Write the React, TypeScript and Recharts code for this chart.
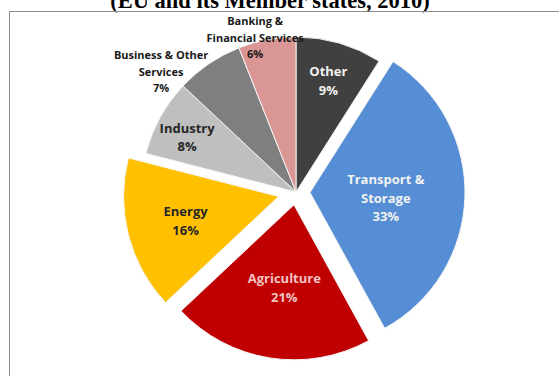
import React from 'react';
import { PieChart, Pie, Cell } from 'recharts';

const SECTORS = [
  'Other',
  'Transport & Storage',
  'Agriculture',
  'Energy',
  'Industry',
  'Business & Other Services',
  'Banking & Financial Services',
];
const SHARES = [9, 33, 21, 16, 8, 7, 6];
const LABEL_LINES = [
  ['Other'],
  ['Transport &', 'Storage'],
  ['Agriculture'],
  ['Energy'],
  ['Industry'],
  ['Business & Other', 'Services'],
  ['Banking &', 'Financial Services'],
];
const COLORS = ['#404040', '#558ED5', '#C00000', '#FFC000', '#BFBFBF', '#7F7F7F', '#D99694'];
const TEXT_COLORS = ['#f2f2f2', '#f2f2f2', '#f2c4c4', '#262626', '#262626', '#1a1a1a', '#1a1a1a'];
const EXPLODE = [0, 14, 13, 18, 0, 0, 0];
// label placement: radius from pie centre and angle nudge (deg, clockwise)
const LABEL_R = [116, 90, 96, 114, 122, 181, 160];
const LABEL_NUDGE = [0, 2, -2, 0, -2, -14, -4];
const OUTSIDE = [false, false, false, false, false, true, true];

const TITLE = '(EU and its Member states, 2010)';

const W = 559;
const H = 376;
const CX = 296;
const CY = 192;
const R = 155;
const FONT = '"Open Sans", sans-serif';

const data = SECTORS.map((name, i) => ({ name, value: SHARES[i] }));

// clockwise-from-top mid angle of each slice
const total = SHARES.reduce((a, b) => a + b, 0);
const midAngles = SHARES.map((v, i) => {
  const before = SHARES.slice(0, i).reduce((a, b) => a + b, 0);
  return ((before + v / 2) / total) * 360;
});

const renderLabel = (props: any) => {
  const { cx, cy, midAngle, index } = props;
  const r = LABEL_R[index];
  const a = ((midAngle - LABEL_NUDGE[index]) * Math.PI) / 180;
  const x = cx + r * Math.cos(a);
  const y = cy - r * Math.sin(a);
  const lines = [...LABEL_LINES[index], `${SHARES[index]}%`];
  const size = OUTSIDE[index] ? 11 : 13;
  const lh = OUTSIDE[index] ? 16.5 : 18.5;
  const top = y - ((lines.length - 1) * lh) / 2;
  return (
    <text
      key={`lbl-${index}`}
      textAnchor="middle"
      fontFamily={FONT}
      fontWeight={700}
      fontSize={size}
      fill={TEXT_COLORS[index]}
    >
      {lines.map((t, j) => (
        <tspan key={j} x={x} y={top + j * lh} dominantBaseline="central">
          {t}
        </tspan>
      ))}
    </text>
  );
};

export default function App() {
  const exploded = EXPLODE.map((d, i) => i).filter((i) => EXPLODE[i] > 0);
  return (
    <div style={{ position: 'absolute', left: 0, top: 0, width: W, height: H, background: '#fff', overflow: 'hidden' }}>
      <svg width={W} height={H} style={{ position: 'absolute', left: 0, top: 0 }}>
        <text
          x={270}
          y={7.5}
          textAnchor="middle"
          fontFamily='"Liberation Serif", "Times New Roman", serif'
          fontWeight={700}
          fontSize={22.5}
          fill="#000"
        >
          {TITLE}
        </text>
        <line x1={9.5} y1={11.5} x2={W} y2={11.5} stroke="#8c8c8c" strokeWidth={1} />
        <line x1={9.5} y1={11.5} x2={9.5} y2={H} stroke="#8c8c8c" strokeWidth={1} />
      </svg>
      <div style={{ position: 'absolute', left: 0, top: 0 }}>
        <PieChart width={W} height={H} margin={{ top: 0, right: 0, bottom: 0, left: 0 }}>
          {exploded.map((k) => {
            const a = (midAngles[k] * Math.PI) / 180;
            return (
              <Pie
                key={`ex-${k}`}
                data={data}
                dataKey="value"
                cx={CX + EXPLODE[k] * Math.sin(a)}
                cy={CY - EXPLODE[k] * Math.cos(a)}
                outerRadius={R}
                startAngle={90}
                endAngle={-270}
                isAnimationActive={false}
                labelLine={false}
              >
                {data.map((_, i) => (
                  <Cell
                    key={i}
                    fill={i === k ? COLORS[i] : 'none'}
                    stroke={i === k ? '#f4f4f4' : 'none'}
                    strokeWidth={1}
                  />
                ))}
              </Pie>
            );
          })}
          <Pie
            data={data}
            dataKey="value"
            cx={CX}
            cy={CY}
            outerRadius={R}
            startAngle={90}
            endAngle={-270}
            isAnimationActive={false}
            labelLine={false}
            label={renderLabel}
          >
            {data.map((_, i) => (
              <Cell
                key={i}
                fill={EXPLODE[i] > 0 ? 'none' : COLORS[i]}
                stroke={EXPLODE[i] > 0 ? 'none' : '#f4f4f4'}
                strokeWidth={1}
              />
            ))}
          </Pie>
        </PieChart>
      </div>
    </div>
  );
}
